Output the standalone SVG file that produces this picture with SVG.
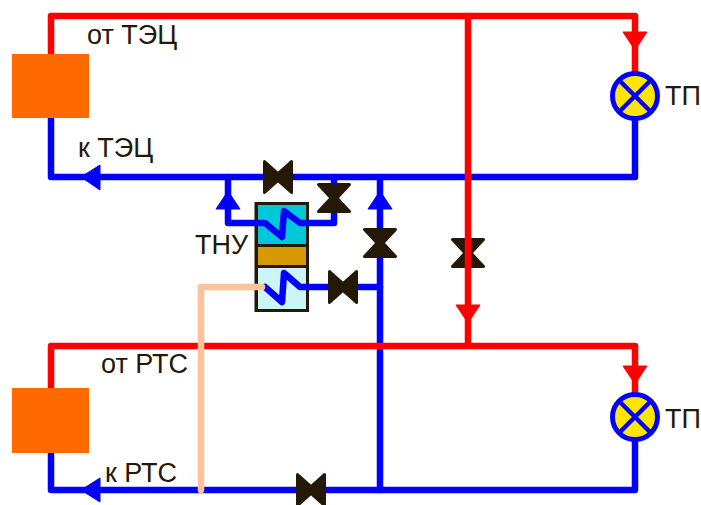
<svg xmlns="http://www.w3.org/2000/svg" width="701" height="505" viewBox="0 0 701 505">
<style>
.pipe{fill:none;stroke-width:6.5;stroke-linejoin:round;stroke-linecap:round}
.hot{stroke:#ff0000}.cold{stroke:#0000ff}.return{stroke:#ffc299}
.ah{fill:#ff0000;stroke:#ff0000;stroke-width:1;stroke-linejoin:round}.ac{fill:#0000ff;stroke:#0000ff;stroke-width:1;stroke-linejoin:round}
.src{fill:#ff6a00}
.v{fill:#241806;stroke:#241806;stroke-width:3;stroke-linejoin:round}
.tp{fill:#ffe600;stroke:#0000ff;stroke-width:5}
.x{fill:none;stroke:#0000ff;stroke-width:4.500}
.shell{stroke:#241806;stroke-width:3}
text{font-family:"Liberation Sans",Arial,sans-serif;font-size:27px;fill:#241806}
</style>
<defs>
<polygon id="vv" class="v" points="-15.500,-13.500 15.500,-13.500 3,0 15.500,13.500 -15.500,13.500 -3,0"/>
<polygon id="vh" class="v" points="-13.500,-15.500 0,-3.500 13.500,-15.500 13.500,15.500 0,3.500 -13.500,15.500"/>
<g id="lamp"><circle class="tp" r="22.500"/><path class="x" d="M-16,-16L16,16M-16,16L16,-16"/></g>
</defs>
<g id="valve-red"><use href="#vv" x="468" y="253"/></g>
<g id="tnu">
<rect class="shell" x="256" y="203.500" width="51.500" height="107" fill="#241806"/>
<rect x="258" y="205" width="48" height="39" fill="#00c8d8"/>
<rect x="258" y="247" width="48" height="18" fill="#d69a06"/>
<rect x="258" y="268" width="48" height="41" fill="#ccf5f8"/>
<text x="195" y="254">ТНУ</text>
</g>
<g id="connectors">
<path class="pipe cold" d="M51,118V177H635V121"/>
<path class="pipe cold" d="M51,453V490H635V442"/>
<path class="pipe cold" d="M380,177V490"/>
<path class="pipe cold" d="M228,177V223H265L282,237L284,211L300,223H334V177"/>
<path class="pipe cold" d="M265,287L282,302L284,273L300,287H380"/>
<path class="pipe hot" d="M51,54V16H635V71"/>
<path class="pipe hot" d="M51,388V346H635V392"/>
<path class="pipe hot" d="M468,16V346"/>
<path class="pipe return" d="M262,287H201V490"/>
<polygon class="ah" points="623,32 647,32 635,50"/>
<polygon class="ah" points="623,366 647,366 635,384"/>
<polygon class="ah" points="456,305 480,305 468,323"/>
<polygon class="ac" points="81,177 100,165 100,190"/>
<polygon class="ac" points="81,490 100,478 100,502"/>
<polygon class="ac" points="228,191 240,209 216,209"/>
<polygon class="ac" points="380,191 392,209 368,209"/>
</g>
<g id="source-tec"><rect class="src" x="12" y="54" width="77" height="64"/><text x="87" y="44">от ТЭЦ</text><text x="78" y="157">к ТЭЦ</text></g>
<g id="source-rts"><rect class="src" x="12" y="388" width="77" height="65"/><text x="101" y="373">от РТС</text><text x="105" y="482">к РТС</text></g>
<g id="valve-1"><use href="#vh" x="278" y="177"/></g>
<g id="valve-2"><use href="#vv" x="334" y="198"/></g>
<g id="valve-3"><use href="#vv" x="380" y="243"/></g>
<g id="valve-4"><use href="#vh" x="343" y="287"/></g>
<g id="valve-5"><use href="#vh" x="311" y="490"/></g>
<g id="tp-1"><use href="#lamp" x="635" y="96"/><text x="665" y="105">ТП</text></g>
<g id="tp-2"><use href="#lamp" x="635" y="417"/><text x="665" y="428">ТП</text></g>
</svg>
